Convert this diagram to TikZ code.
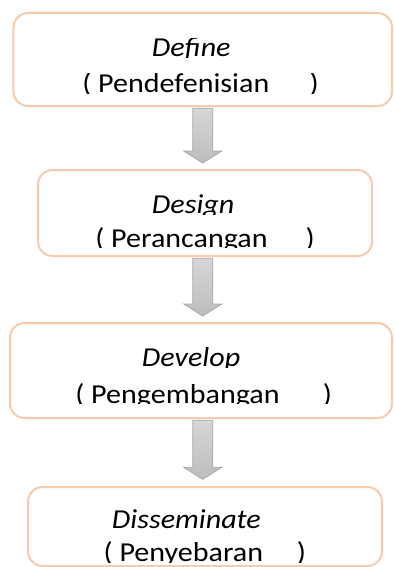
\documentclass[tikz,border=0pt]{standalone}
\usepackage{fontspec}
\setmainfont{Carlito}
\usepackage{trimclip}
\usetikzlibrary{calc}

\definecolor{boxline}{HTML}{F8CBAD}
\definecolor{arrowline}{HTML}{A6A6A6}
\definecolor{arrowtop}{HTML}{D6D6D6}
\definecolor{arrowbottom}{HTML}{BDBDBD}

% lines are cut just under the baseline, as in the source
\newcommand{\cutline}[1]{\clipbox{0pt 0.8\depth{} 0pt 0pt}{#1}}

\tikzset{
  stepbox/.style={draw=boxline, line width=1.5pt, rounded corners=11pt, fill=white},
  steptext/.style={anchor=base west, inner sep=0pt, font=\fontsize{20.5}{24}\selectfont, xscale=1.1, transform shape},
  flowarrow/.style={draw=arrowline, line width=0.6pt, top color=arrowtop, bottom color=arrowbottom}
}

\begin{document}
\begin{tikzpicture}[x=0.75pt,y=-0.75pt]
\useasboundingbox (0,0) rectangle (393,567);

% the four steps
\node [stepbox, minimum width=283.9pt, minimum height=69.75pt] (define) at (202.75,59.5) {};
\node [stepbox, minimum width=250.5pt, minimum height=64.5pt] (design) at (205,213) {};
\node [stepbox, minimum width=286.5pt, minimum height=71.25pt] (develop) at (201,370.5) {};
\node [stepbox, minimum width=265.5pt, minimum height=59.25pt] (disseminate) at (205,526.5) {};

% labels
\node [steptext] (defineen) at (151.7,57) {\cutline{\textit{Define}}};
\node [steptext] (defineid) at (82,93) {\cutline{( Pendefenisian\hspace{27.5pt})}};
\node [steptext] (designen) at (151.7,213.3) {\cutline{\textit{Design}}};
\node [steptext] (designid) at (95,247) {\cutline{( Perancangan\hspace{26pt})}};
\node [steptext] (developen) at (141.7,366.7) {\cutline{\textit{Develop}}};
\node [steptext] (developid) at (75,403) {\cutline{( Pengembangan\hspace{29.5pt})}};
\node [steptext] (disseminateen) at (111.7,528) {\cutline{\textit{Disseminate}}};
\node [steptext] (disseminateid) at (103.3,561.7) {\cutline{( Penyebaran\hspace{23pt})}};

% arrows between the steps
\coordinate (tip1) at ($(define.south |- design.north)+(0,4.5pt)$);
\coordinate (tip2) at ($(define.south |- develop.north)+(0,4.5pt)$);
\coordinate (tip3) at ($(define.south |- disseminate.north)+(0,5pt)$);
\coordinate (start1) at ($(define.south)+(0,-1pt)$);
\coordinate (start2) at ($(define.south |- design.south)+(0,-1pt)$);
\coordinate (start3) at ($(define.south |- develop.south)+(0,-1pt)$);
\foreach \i in {1,2,3}
  \draw [flowarrow] ([xshift=-7.5pt]start\i) -- ([xshift=-7.5pt,yshift=9pt]tip\i)
    -- ([xshift=-14.25pt,yshift=9pt]tip\i) -- (tip\i) -- ([xshift=14.25pt,yshift=9pt]tip\i)
    -- ([xshift=7.5pt,yshift=9pt]tip\i) -- ([xshift=7.5pt]start\i) -- cycle;
\end{tikzpicture}
\end{document}
